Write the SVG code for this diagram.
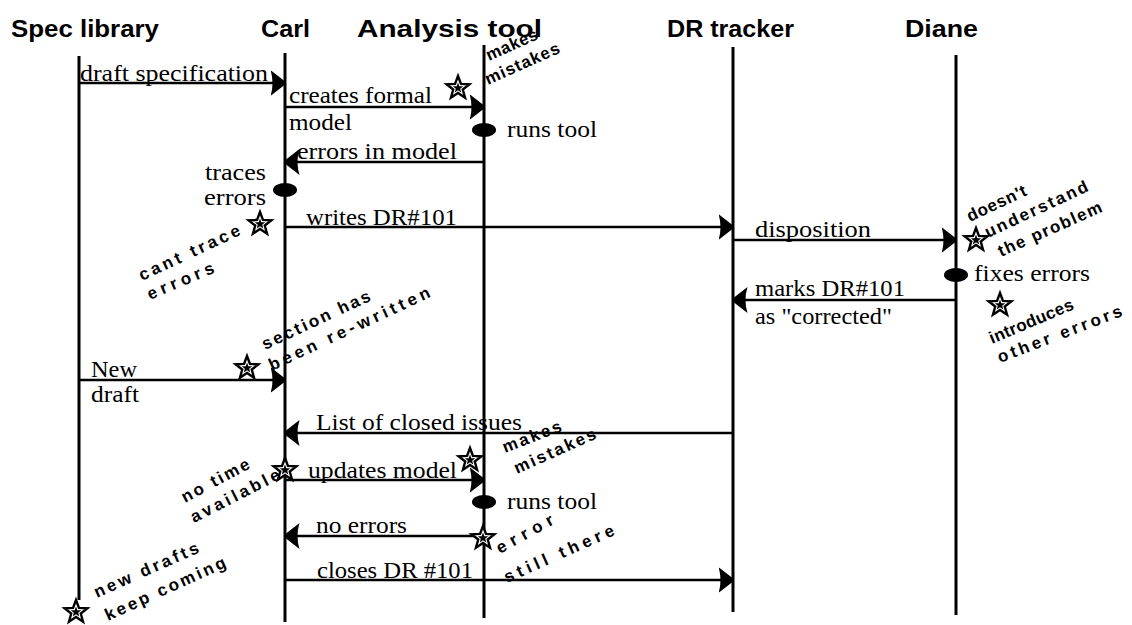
<svg xmlns="http://www.w3.org/2000/svg" xmlns:xlink="http://www.w3.org/1999/xlink" width="1132" height="625" viewBox="0 0 1132 625">
<style>
.title{font-family:"Liberation Sans",Arial,sans-serif;font-weight:bold;font-size:24px;fill:#000}
.lbl{font-family:"Liberation Serif","Times New Roman",serif;font-size:23px;fill:#000}
.ann{font-family:"Liberation Sans",Arial,sans-serif;font-weight:bold;font-size:17px;fill:#000}
.life{stroke:#000;stroke-width:3;fill:none}
.msg{stroke:#000;stroke-width:2.5;fill:none;marker-end:url(#ah)}
.act{fill:#000}
</style>
<defs>
<marker id="ah" viewBox="0 0 14 26" refX="13.5" refY="13" markerUnits="userSpaceOnUse" markerWidth="14" markerHeight="26" orient="auto">
<path d="M0,0 L14,11 L14,15 L0,26 Q4,13 0,0 Z" fill="#000"/>
</marker>
<g id="star">
<polygon points="0,-12 2.95,-4.06 11.41,-3.71 4.77,1.55 7.05,9.71 0,5.02 -7.05,9.71 -4.77,1.55 -11.41,-3.71 -2.95,-4.06" fill="#fff" stroke="#000" stroke-width="2.4" stroke-linejoin="miter"/>
<polygon points="0,-5.5 1.3,-1.85 5.2,-1.7 2.2,0.7 3.25,4.45 0,2.3 -3.25,4.45 -2.2,0.7 -5.2,-1.7 -1.3,-1.85" fill="#000"/>
</g>
</defs>

<g id="spec-library">
<text class="title" x="11" y="37" textLength="148" lengthAdjust="spacingAndGlyphs">Spec library</text>
<line class="life" x1="79" y1="56" x2="79" y2="600"/>
</g>
<g id="carl">
<text class="title" x="261" y="37" textLength="49" lengthAdjust="spacingAndGlyphs">Carl</text>
<line class="life" x1="285" y1="53" x2="285" y2="622"/>
</g>
<g id="analysis-tool">
<text class="title" x="357" y="37" textLength="185" lengthAdjust="spacingAndGlyphs">Analysis tool</text>
<line class="life" x1="484" y1="45" x2="484" y2="618"/>
</g>
<g id="dr-tracker">
<text class="title" x="667" y="37" textLength="127" lengthAdjust="spacingAndGlyphs">DR tracker</text>
<line class="life" x1="733" y1="47" x2="733" y2="612"/>
</g>
<g id="diane">
<text class="title" x="905" y="37" textLength="73" lengthAdjust="spacingAndGlyphs">Diane</text>
<line class="life" x1="956" y1="55" x2="956" y2="615"/>
</g>

<g id="connectors">
<line class="msg" x1="79" y1="83" x2="284" y2="83"/>
<line class="msg" x1="285" y1="107" x2="483" y2="107"/>
<line class="msg" x1="484" y1="162" x2="286" y2="162"/>
<line class="msg" x1="285" y1="227" x2="732" y2="227"/>
<line class="msg" x1="733" y1="240" x2="955" y2="240"/>
<line class="msg" x1="956" y1="300" x2="734" y2="300"/>
<line class="msg" x1="79" y1="380" x2="284" y2="380"/>
<line class="msg" x1="733" y1="433" x2="286" y2="433"/>
<line class="msg" x1="285" y1="480" x2="483" y2="480"/>
<line class="msg" x1="484" y1="536" x2="286" y2="536"/>
<line class="msg" x1="285" y1="580" x2="732" y2="580"/>
</g>

<g id="message-labels">
<text class="lbl" x="80" y="81" textLength="188" lengthAdjust="spacingAndGlyphs">draft specification</text>
<text class="lbl" x="289" y="103" textLength="143" lengthAdjust="spacingAndGlyphs">creates formal</text>
<text class="lbl" x="289" y="130" textLength="63" lengthAdjust="spacingAndGlyphs">model</text>
<text class="lbl" x="297" y="159" textLength="160" lengthAdjust="spacingAndGlyphs">errors in model</text>
<text class="lbl" x="306" y="225" textLength="151" lengthAdjust="spacingAndGlyphs">writes DR#101</text>
<text class="lbl" x="755" y="237" textLength="116" lengthAdjust="spacingAndGlyphs">disposition</text>
<text class="lbl" x="755" y="296" textLength="150" lengthAdjust="spacingAndGlyphs">marks DR#101</text>
<text class="lbl" x="755" y="324" textLength="137" lengthAdjust="spacingAndGlyphs">as "corrected"</text>
<text class="lbl" x="91" y="377" textLength="46" lengthAdjust="spacingAndGlyphs">New</text>
<text class="lbl" x="91" y="402" textLength="48" lengthAdjust="spacingAndGlyphs">draft</text>
<text class="lbl" x="316" y="430" textLength="206" lengthAdjust="spacingAndGlyphs">List of closed issues</text>
<text class="lbl" x="308" y="478" textLength="149" lengthAdjust="spacingAndGlyphs">updates model</text>
<text class="lbl" x="316" y="533" textLength="91" lengthAdjust="spacingAndGlyphs">no errors</text>
<text class="lbl" x="317" y="578" textLength="156" lengthAdjust="spacingAndGlyphs">closes DR #101</text>
</g>

<g id="activities">
<ellipse class="act" cx="484" cy="130" rx="12" ry="7"/>
<text class="lbl" x="507" y="137" textLength="90" lengthAdjust="spacingAndGlyphs">runs tool</text>
<ellipse class="act" cx="285" cy="190" rx="12" ry="7"/>
<text class="lbl" x="205" y="180" textLength="61" lengthAdjust="spacingAndGlyphs">traces</text>
<text class="lbl" x="204" y="205" textLength="62" lengthAdjust="spacingAndGlyphs">errors</text>
<ellipse class="act" cx="956" cy="275" rx="12" ry="7"/>
<text class="lbl" x="974" y="281" textLength="116" lengthAdjust="spacingAndGlyphs">fixes errors</text>
<ellipse class="act" cx="484" cy="502" rx="12" ry="7"/>
<text class="lbl" x="507" y="509" textLength="90" lengthAdjust="spacingAndGlyphs">runs tool</text>
</g>

<g id="annotations">
<use xlink:href="#star" x="458" y="88"/>
<text class="ann" transform="translate(489,61) rotate(-24)" textLength="55">makes</text>
<text class="ann" transform="translate(488,85) rotate(-24)" textLength="80">mistakes</text>

<use xlink:href="#star" x="260" y="224"/>
<text class="ann" transform="translate(142,281) rotate(-25)" textLength="110">cant  trace</text>
<text class="ann" transform="translate(150,300) rotate(-23)" textLength="71">errors</text>

<use xlink:href="#star" x="976" y="240"/>
<text class="ann" transform="translate(970,222) rotate(-25)" textLength="64">doesn't</text>
<text class="ann" transform="translate(988,238) rotate(-25)" textLength="112">understand</text>
<text class="ann" transform="translate(1001,257) rotate(-24)" textLength="112">the  problem</text>

<use xlink:href="#star" x="1000" y="305"/>
<text class="ann" transform="translate(992,344) rotate(-23)" textLength="90">introduces</text>
<text class="ann" transform="translate(1000,363) rotate(-21)" textLength="132">other  errors</text>

<use xlink:href="#star" x="247" y="368"/>
<text class="ann" transform="translate(265,350) rotate(-25)" textLength="118">section has</text>
<text class="ann" transform="translate(272,371) rotate(-25)" textLength="176">been  re-written</text>

<use xlink:href="#star" x="470" y="460"/>
<text class="ann" transform="translate(505,453) rotate(-21)" textLength="62">makes</text>
<text class="ann" transform="translate(517,474) rotate(-24)" textLength="88">mistakes</text>

<use xlink:href="#star" x="285" y="470"/>
<text class="ann" transform="translate(185,503) rotate(-28)" textLength="75">no  time</text>
<text class="ann" transform="translate(194,523) rotate(-27)" textLength="98">available</text>

<use xlink:href="#star" x="483" y="538"/>
<text class="ann" transform="translate(500,554) rotate(-29)" textLength="63">error</text>
<text class="ann" transform="translate(507,583) rotate(-24)" textLength="119">still  there</text>

<use xlink:href="#star" x="76" y="612"/>
<text class="ann" transform="translate(97,598) rotate(-24)" textLength="113">new  drafts</text>
<text class="ann" transform="translate(108,621) rotate(-24.5)" textLength="131">keep  coming</text>
</g>
</svg>
